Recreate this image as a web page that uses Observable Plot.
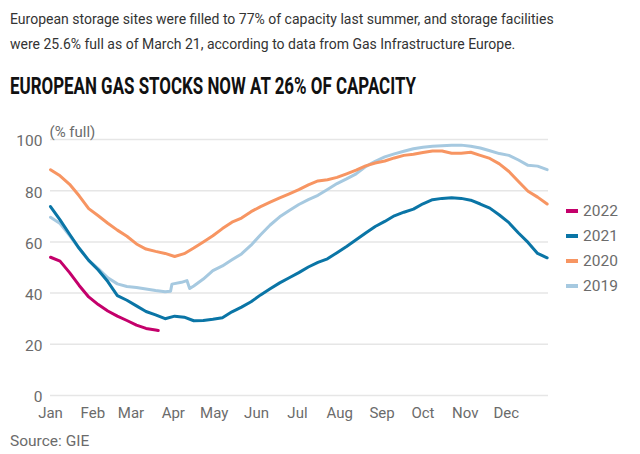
<!DOCTYPE html>
<html>
<head>
<meta charset="utf-8">
<script src="https://cdn.jsdelivr.net/npm/d3@7"></script>
<script src="https://cdn.jsdelivr.net/npm/@observablehq/plot@0.6"></script>
<style>
  html, body { margin: 0; padding: 0; background: #fff; }
  body { width: 640px; height: 454px; position: relative; overflow: hidden; font-family: Roboto, "Noto Sans", sans-serif; }
  #subtitle { position: absolute; left: 10px; top: 7px; width: 630px; font-size: 14px; line-height: 25px; color: #333; white-space: nowrap; }
  #title { position: absolute; left: 10px; top: 74px; font-size: 24px; line-height: 24px; font-weight: 700; color: #111; white-space: nowrap; transform-origin: 0 0; transform: scaleX(0.705); }
  #chart { position: absolute; left: 0; top: 110px; }
  #source { position: absolute; left: 10px; top: 432px; font-size: 15.5px; line-height: 18px; color: #6b6b6b; }
  .leg { position: absolute; left: 566px; font-size: 15.5px; line-height: 18px; color: #6b6b6b; display: flex; align-items: center; }
  .sw { width: 12px; height: 4px; margin-right: 5px; }
</style>
</head>
<body>
<div id="subtitle">European storage sites were filled to 77% of capacity last summer, and storage facilities<br>were 25.6% full as of March 21, according to data from Gas Infrastructure Europe.</div>
<div id="title">EUROPEAN GAS STOCKS NOW AT 26% OF CAPACITY</div>
<div id="chart"></div>
<div id="source">Source: GIE</div>
<div id="legend"></div>
<script>
// Day-of-year positions (0 = Jan 1)
const weeks = [0,7,14,21,28,35,42,49,56,63,70,77,84,91,98,105,112,119,126,133,140,147,154,161,168,175,182,189,196,203,210,217,224,231,238,245,252,259,266,273,280,287,294,301,308,315,322,329,336,343,350,357,364];

const days2022 = [0,7,14,21,28,35,42,49,56,63,70,77,79];
const values2022 = [54,52.5,48,43,38.5,35.5,33,31,29.3,27.5,26.2,25.6,25.4];

const values2021 = [73.8,68.6,63,57.5,52.8,49,44.5,39,37.2,35,32.8,31.5,30,31,30.6,29.2,29.3,29.8,30.4,32.7,34.5,36.6,39.3,41.7,44,46,48,50.2,52,53.4,55.8,58.2,60.8,63.5,66,68,70.2,71.6,72.8,74.9,76.5,77,77.2,77,76.3,74.8,73.2,70.5,67.5,63.5,59.8,55.5,53.8];

const values2020 = [88.2,85.8,82.5,78,73,70.2,67.3,64.6,62.2,59.2,57.2,56.3,55.5,54.3,55.4,57.6,60,62.4,65.2,67.7,69.3,71.8,73.8,75.5,77.2,78.8,80.4,82.3,83.8,84.3,85.2,86.6,88,89.7,90.8,91.6,92.8,93.8,94.2,94.9,95.5,95.5,94.6,94.6,95,93.8,92.6,90.5,87.5,83.6,79.8,77.5,74.8];

const days2019 = [0,7,14,21,28,35,42,49,56,63,70,77,84,88,89,96,100,102,105,112,119,126,133,140,147,154,161,168,175,182,189,196,203,210,217,224,231,238,245,252,259,266,273,280,287,294,301,308,315,322,329,336,343,350,357,364];
const values2019 = [69.6,67.2,62.5,57.5,52.8,49.6,46,43.6,42.6,42.2,41.6,41,40.5,40.7,43.5,44.2,44.9,41.8,42.8,45.5,48.8,50.6,53,55.3,58.7,62.8,66.6,69.8,72.3,74.6,76.5,78.2,80.5,82.8,84.6,86.6,89.4,91.5,93.2,94.4,95.4,96.4,97,97.4,97.6,97.8,97.8,97.4,96.7,95.6,94.5,93.8,92,89.9,89.6,88.2];

const monthStarts = [0,31,59,90,120,151,181,212,243,273,304,334];
const monthLabels = ["Jan","Feb","Mar","Apr","May","Jun","Jul","Aug","Sep","Oct","Nov","Dec"];
const yTicks = [0,20,40,60,80,100];

const seriesNames = ["2022","2021","2020","2019"];
const seriesColors = ["#c4006b","#0a75a6","#f79562","#a6c9e0"];

function rows(days, values) { return days.map((d, i) => ({day: d, value: values[i]})); }
const data = {
  "2022": rows(days2022, values2022),
  "2021": rows(weeks, values2021),
  "2020": rows(weeks, values2020),
  "2019": rows(days2019, values2019)
};

const grey = "#6b6b6b";
const lineMarks = ["2019","2020","2021","2022"].map(name =>
  Plot.line(data[name], {x: "day", y: "value", stroke: seriesColors[seriesNames.indexOf(name)], strokeWidth: 3, strokeLinejoin: "round"})
);

const chart = Plot.plot({
  width: 640,
  height: 320,
  marginTop: 29,
  marginBottom: 35,
  marginLeft: 50,
  marginRight: 92,
  x: {domain: [0, 365], axis: null},
  y: {domain: [0, 100], axis: null},
  style: {fontFamily: "Roboto, 'Noto Sans', sans-serif", fontSize: "15px", background: "transparent"},
  marks: [
    Plot.ruleY(yTicks, {stroke: "#e6e6e6", strokeWidth: 1.5}),
    Plot.text(yTicks, {y: d => d, text: d => String(d), frameAnchor: "left", textAnchor: "end", dx: -8, dy: 2, fill: grey, fontSize: 15.5}),
    Plot.text(monthStarts, {x: d => d, text: d => monthLabels[monthStarts.indexOf(d)], frameAnchor: "bottom", dy: 22, fill: grey, fontSize: 15}),
    Plot.text(["(% full)"], {text: d => d, frameAnchor: "top-left", textAnchor: "start", dx: -1, dy: -13, fill: grey, fontSize: 15}),
    ...lineMarks
  ]
});
document.getElementById("chart").appendChild(chart);

const legend = document.getElementById("legend");
const legendTops = [202, 227, 252, 277];
seriesNames.forEach((name, i) => {
  const row = document.createElement("div");
  row.className = "leg";
  row.style.top = legendTops[i] + "px";
  const sw = document.createElement("span");
  sw.className = "sw";
  sw.style.background = seriesColors[i];
  const t = document.createElement("span");
  t.textContent = name;
  row.appendChild(sw);
  row.appendChild(t);
  legend.appendChild(row);
});
</script>
</body>
</html>
